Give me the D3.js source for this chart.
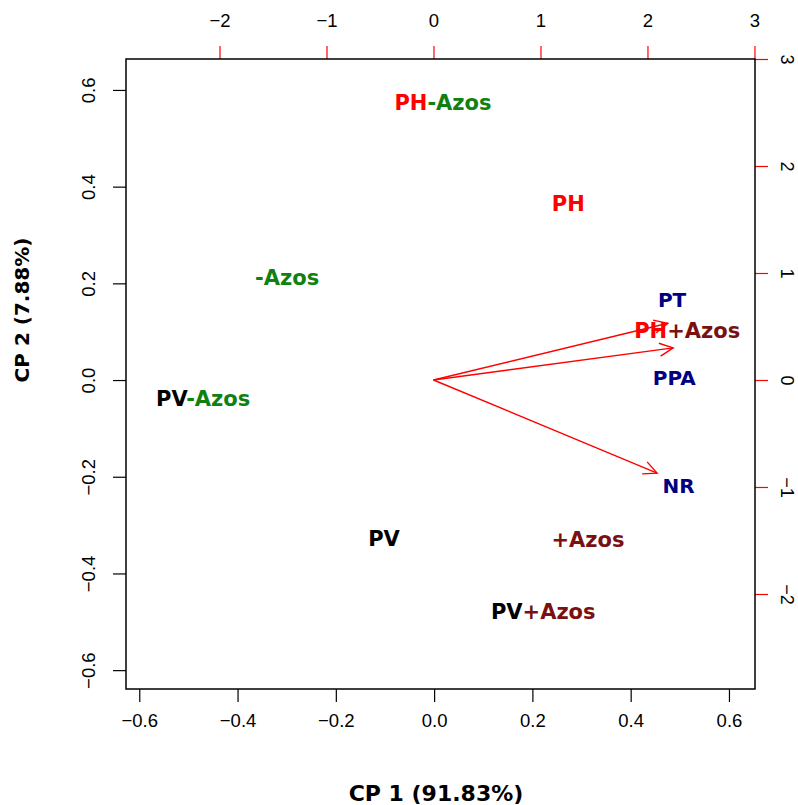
<!DOCTYPE html>
<html>
<head>
<meta charset="utf-8">
<script src="https://cdn.jsdelivr.net/npm/d3@7"></script>
<style>
  html, body { margin: 0; padding: 0; background: #fff; }
  svg { display: block; }
</style>
</head>
<body>
<svg id="chart" width="798" height="805"></svg>
<script>
// ---------- data ----------
const obsNames = ["PH-Azos", "PH", "-Azos", "PV-Azos", "PV", "+Azos", "PV+Azos", "PH+Azos"];
const obsPC1   = [0.018, 0.273, -0.299, -0.470, -0.102, 0.313, 0.222, 0.515];
const obsPC2   = [0.573, 0.364, 0.211, -0.039, -0.329, -0.331, -0.480, 0.101];

const varNames = ["PT", "PPA", "NR"];
const varArrowX = [2.19, 2.24, 2.09];
const varArrowY = [0.53, 0.30, -0.87];
const varLabelX = [2.23, 2.25, 2.29];
const varLabelY = [0.75, 0.02, -0.99];

const primaryTicks = [-0.6, -0.4, -0.2, 0.0, 0.2, 0.4, 0.6];
const secondaryTicks = [-2, -1, 0, 1, 2, 3];
const xTitle = "CP 1 (91.83%)";
const yTitle = "CP 2 (7.88%)";

// ---------- layout ----------
const box = { left: 126, right: 755, top: 59, bottom: 689 };
const svg = d3.select("#chart");

const x = d3.scaleLinear().domain([-0.627, 0.653]).range([box.left, box.right]);
const y = d3.scaleLinear().domain([-0.639, 0.664]).range([box.bottom, box.top]);
const x2 = d3.scaleLinear().domain([-2.874, 3.005]).range([box.left, box.right]);
const y2 = d3.scaleLinear().domain([-2.888, 3.0]).range([box.bottom, box.top]);

const tickFont = "'Liberation Sans', Arial, sans-serif";
const labFont = "'DejaVu Sans', Verdana, sans-serif";
const fmt = d => d.toFixed(1).replace("-", "\u2212");
const fmt2 = d => String(d).replace("-", "\u2212");

// bottom axis
const gb = svg.append("g").attr("transform", `translate(0,${box.bottom})`)
  .call(d3.axisBottom(x).tickValues(primaryTicks).tickFormat(fmt).tickSize(13).tickPadding(6));
// left axis
const gl = svg.append("g").attr("transform", `translate(${box.left},0)`)
  .call(d3.axisLeft(y).tickValues(primaryTicks).tickFormat(fmt).tickSize(13).tickPadding(6));
// top axis
const gt = svg.append("g").attr("transform", `translate(0,${box.top})`)
  .call(d3.axisTop(x2).tickValues(secondaryTicks).tickFormat(fmt2).tickSize(13).tickPadding(6));
// right axis
const gr = svg.append("g").attr("transform", `translate(${box.right},0)`)
  .call(d3.axisRight(y2).tickValues(secondaryTicks).tickFormat(fmt2).tickSize(13).tickPadding(6));

[gb, gl, gt, gr].forEach(g => {
  g.select(".domain").remove();
  g.selectAll("text").attr("font-family", tickFont).attr("font-size", 18.5).attr("fill", "#000");
  g.selectAll(".tick line").attr("stroke-width", 1.2);
});
gb.selectAll(".tick line").attr("stroke", "#000");
gl.selectAll(".tick line").attr("stroke", "#000");
gt.selectAll(".tick line").attr("stroke", "#ff0000");
gr.selectAll(".tick line").attr("stroke", "#ff0000");

// rotate left labels (bottom-to-top)
gl.selectAll(".tick text")
  .attr("text-anchor", "middle")
  .attr("dy", null)
  .attr("dominant-baseline", "central")
  .attr("x", 0)
  .attr("transform", "translate(-38,0) rotate(-90)");
// rotate right labels (top-to-bottom)
gr.selectAll(".tick text")
  .attr("text-anchor", "middle")
  .attr("dy", null)
  .attr("dominant-baseline", "central")
  .attr("x", 0)
  .attr("font-size", 18)
  .attr("transform", "translate(32,0) rotate(90)");
gb.selectAll(".tick text").attr("dy", null).attr("y", 0).attr("dominant-baseline", "central").attr("transform", "translate(0,31)");
gt.selectAll(".tick text").attr("dy", null).attr("y", 0).attr("dominant-baseline", "central").attr("transform", "translate(0,-39)");

// box
svg.append("rect")
  .attr("x", box.left).attr("y", box.top)
  .attr("width", box.right - box.left).attr("height", box.bottom - box.top)
  .attr("fill", "none").attr("stroke", "#000").attr("stroke-width", 1.5);

// axis titles
svg.append("text")
  .attr("x", 436).attr("y", 793)
  .attr("text-anchor", "middle").attr("dominant-baseline", "central")
  .attr("font-family", labFont).attr("font-weight", "bold").attr("font-size", 22)
  .attr("fill", "#000").text(xTitle);
svg.append("text")
  .attr("transform", "translate(22,310) rotate(-90)")
  .attr("text-anchor", "middle").attr("dominant-baseline", "central")
  .attr("font-family", labFont).attr("font-weight", "bold").attr("font-size", 20)
  .attr("fill", "#000").text(yTitle);

// arrows
const ox = x2(0), oy = y2(0);
const arrowG = svg.append("g").attr("stroke", "#ff0000").attr("stroke-width", 1.4).attr("fill", "none");
varNames.forEach((n, i) => {
  const tx = x2(varArrowX[i]), ty = y2(varArrowY[i]);
  const ang = Math.atan2(ty - oy, tx - ox);
  const L = 15, a = Math.PI / 7;
  arrowG.append("line").attr("x1", ox).attr("y1", oy).attr("x2", tx).attr("y2", ty);
  arrowG.append("path").attr("d",
    `M${tx - L * Math.cos(ang - a)},${ty - L * Math.sin(ang - a)}L${tx},${ty}L${tx - L * Math.cos(ang + a)},${ty - L * Math.sin(ang + a)}`);
});

// variable labels
svg.append("g").selectAll("text").data(varNames).join("text")
  .attr("x", (d, i) => x2(varLabelX[i]))
  .attr("y", (d, i) => y2(varLabelY[i]))
  .attr("text-anchor", "middle").attr("dominant-baseline", "central")
  .attr("font-family", labFont).attr("font-weight", "bold").attr("font-size", 20)
  .attr("fill", "#000080").text(d => d);

// observation labels with coloured parts
const partColor = { "PH": "#ff0000", "PV": "#000000", "-Azos": "#108010", "+Azos": "#7a1010" };
function splitName(name) {
  const m = name.match(/^(PH|PV)?([+-]Azos)?$/);
  const parts = [];
  if (m[1]) parts.push(m[1]);
  if (m[2]) parts.push(m[2]);
  return parts;
}
const obsG = svg.append("g");
obsNames.forEach((n, i) => {
  const t = obsG.append("text")
    .attr("x", x(obsPC1[i])).attr("y", y(obsPC2[i]))
    .attr("text-anchor", "middle").attr("dominant-baseline", "central")
    .attr("font-family", labFont).attr("font-weight", "bold").attr("font-size", 21);
  splitName(n).forEach(p => t.append("tspan").attr("fill", partColor[p]).text(p));
});
</script>
</body>
</html>
